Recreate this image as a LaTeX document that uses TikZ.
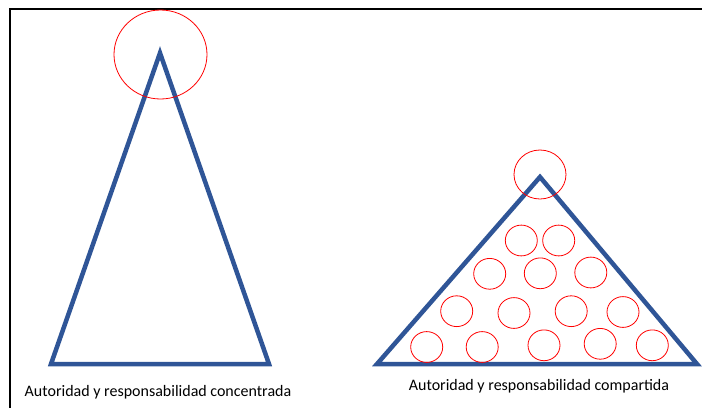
\documentclass[tikz,border=0pt]{standalone}
\usepackage{fontspec}
\setmainfont{Carlito}
\definecolor{triblue}{HTML}{2F5597}
\begin{document}
\begin{tikzpicture}[x=1pt,y=-1pt,
  tri/.style={draw=triblue,line width=4.5pt,line join=miter},
  ring/.style={draw=red,line width=0.8pt},
  lbl/.style={font=\fontsize{16}{18}\selectfont,inner sep=0pt,anchor=base}]
\useasboundingbox (0,0) rectangle (702,408);
\fill[white] (0,0) rectangle (702,408);
\draw[line width=2pt] (702,9) -- (10,9) -- (10,408);
% left triangle
\coordinate (la) at (160,53);
\coordinate (lb) at (51,364);
\coordinate (lc) at (269,364);
\draw[tri] (la) -- (lb) -- (lc) -- cycle;
\draw[ring] (160.5,54.5) ellipse [x radius=46.5,y radius=44.5];
\node[lbl] (ltxt) at (158,396.5) {Autoridad y responsabilidad concentrada};
% right triangle
\coordinate (ra) at (540,177);
\coordinate (rb) at (377,364);
\coordinate (rc) at (697,364);
\draw[tri] (ra) -- (rb) -- (rc) -- cycle;
\draw[ring] (540,174.5) ellipse [x radius=26,y radius=24.5];
\foreach \cx/\cy in {521.3/240.5,558.7/240.5,
  489.7/273.8,540.3/273.3,590.8/272.5,
  456.7/311.2,514/313,571.2/311.2,623/312,
  426.7/347,482.2/347,544/345.3,600.2/343.8,652.3/345.3}
  \draw[ring] (\cx,\cy) ellipse [x radius=16,y radius=15.4];
\node[lbl] (rtxt) at (539,390) {Autoridad y responsabilidad compartida};
\end{tikzpicture}
\end{document}
